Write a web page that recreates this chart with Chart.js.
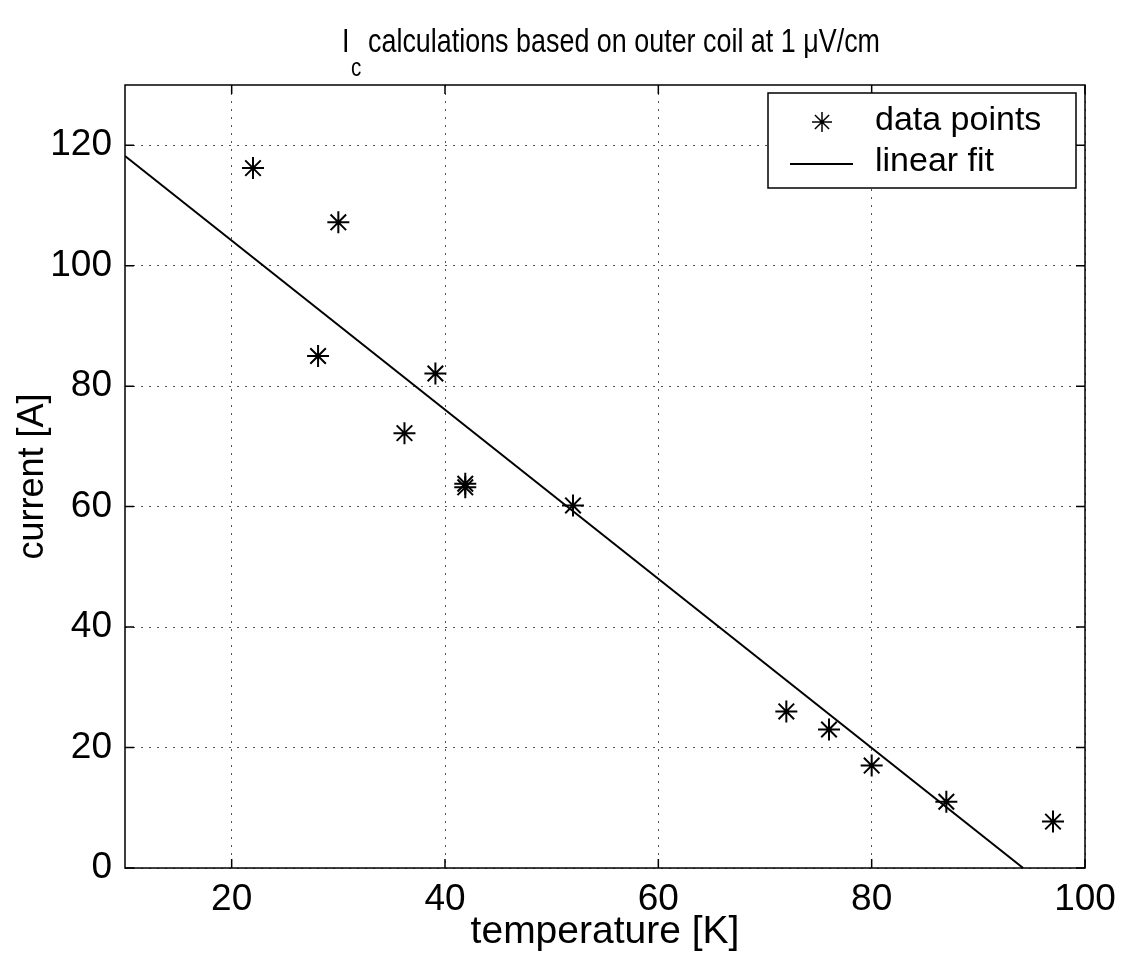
<!DOCTYPE html>
<html lang="en">
<head>
<meta charset="UTF-8" />
<title>Ic calculations based on outer coil</title>
<script src="https://cdn.jsdelivr.net/npm/chart.js"></script>
<style>
  html, body { margin: 0; padding: 0; background: #fff; }
  #wrap { width: 1139px; height: 956px; }
</style>
</head>
<body>
<div id="wrap"><canvas id="icChart" width="1139" height="956"></canvas></div>
<script>
  // measured points (temperature K, current A)
  const temperature = [22, 28.1, 30, 36.2, 39.1, 41.9, 41.9, 52, 72, 76, 80, 87, 97];
  const current = [116.2, 85, 107.2, 72.2, 82.1, 63.8, 63.2, 60.2, 26, 23, 17, 11, 7.7];
  // end points of the fitted line
  const fitTemperature = [10, 94.2];
  const fitCurrent = [118.2, 0];
  const xTicks = [20, 40, 60, 80, 100];
  const yTicks = [0, 20, 40, 60, 80, 100, 120];

  const FONT = '"Liberation Sans", Arial, sans-serif';

  // box round the plot + inward ticks on all four sides
  const boxPlugin = {
    id: 'box',
    afterDraw(chart) {
      const { ctx, chartArea: a, scales } = chart;
      ctx.save();
      ctx.strokeStyle = '#000';
      ctx.lineWidth = 1.5;
      ctx.strokeRect(a.left, a.top, a.right - a.left, a.bottom - a.top);
      ctx.beginPath();
      xTicks.forEach(v => {
        const px = scales.x.getPixelForValue(v);
        ctx.moveTo(px, a.bottom); ctx.lineTo(px, a.bottom - 9);
        ctx.moveTo(px, a.top); ctx.lineTo(px, a.top + 9);
      });
      yTicks.forEach(v => {
        const py = scales.y.getPixelForValue(v);
        ctx.moveTo(a.left, py); ctx.lineTo(a.left + 9, py);
        ctx.moveTo(a.right, py); ctx.lineTo(a.right - 9, py);
      });
      ctx.stroke();
      ctx.restore();
    }
  };

  // title with subscript c, drawn a bit condensed like the original
  const titlePlugin = {
    id: 'subTitle',
    afterDraw(chart) {
      const ctx = chart.ctx;
      const rest = 'calculations based on outer coil at 1 \u03bcV/cm';
      ctx.save();
      ctx.fillStyle = '#000';
      ctx.textBaseline = 'alphabetic';
      ctx.font = '34px ' + FONT;
      const w = ctx.measureText(rest).width;
      const sx = 512 / w;
      ctx.translate(342, 0);
      ctx.scale(sx, 1);
      ctx.fillText('I', 0, 52);
      ctx.font = '26px ' + FONT;
      ctx.fillText('c', 9 / sx, 76);
      ctx.font = '34px ' + FONT;
      ctx.fillText(rest, 26 / sx, 52);
      ctx.restore();
    }
  };

  // legend box in the upper right corner
  const legendPlugin = {
    id: 'boxLegend',
    afterDraw(chart) {
      const ctx = chart.ctx;
      const ds = chart.data.datasets;
      ctx.save();
      ctx.fillStyle = '#fff';
      ctx.fillRect(768, 93, 308, 95);
      ctx.strokeStyle = '#000';
      ctx.lineWidth = 1.5;
      ctx.strokeRect(768, 93, 308, 95);
      Chart.helpers.drawPoint(ctx, { pointStyle: 'star', radius: 10, borderWidth: 2 }, 822, 122);
      ctx.lineWidth = 2;
      ctx.beginPath(); ctx.moveTo(790, 164); ctx.lineTo(853, 164); ctx.stroke();
      ctx.fillStyle = '#000';
      ctx.font = '34px ' + FONT;
      ctx.textBaseline = 'middle';
      ctx.fillText(ds[1].label, 875, 121);
      ctx.fillText(ds[0].label, 875, 162);
      ctx.restore();
    }
  };

  new Chart(document.getElementById('icChart'), {
    type: 'scatter',
    data: {
      datasets: [{
        label: 'linear fit',
        data: fitTemperature.map((t, i) => ({ x: t, y: fitCurrent[i] })),
        showLine: true,
        borderColor: '#000',
        borderWidth: 2,
        pointRadius: 0,
        order: 2
      }, {
        label: 'data points',
        data: temperature.map((t, i) => ({ x: t, y: current[i] })),
        pointStyle: 'star',
        pointRadius: 11,
        borderWidth: 2,
        borderColor: '#000',
        backgroundColor: '#000',
        order: 1
      }]
    },
    options: {
      responsive: false,
      animation: false,
      devicePixelRatio: 1,
      layout: { padding: { top: 85, right: 54, left: 0, bottom: 0 } },
      plugins: { legend: { display: false }, tooltip: { enabled: false } },
      scales: {
        x: {
          type: 'linear', min: 10, max: 100,
          afterBuildTicks: s => { s.ticks = xTicks.map(v => ({ value: v })); },
          afterFit: s => { s.height = 88; },
          grid: { color: '#555', lineWidth: 1, drawTicks: false },
          border: { display: false, dash: [2, 6] },
          ticks: { color: '#000', padding: 10, font: { family: FONT, size: 37 }, maxRotation: 0 },
          title: { display: true, text: 'temperature [K]', color: '#000', font: { family: FONT, size: 39 }, padding: { top: 0, bottom: 0 } }
        },
        y: {
          type: 'linear', min: 0, max: 130,
          afterBuildTicks: s => { s.ticks = yTicks.map(v => ({ value: v })); },
          afterFit: s => { s.width = 125; },
          grid: { color: '#555', lineWidth: 1, drawTicks: false },
          border: { display: false, dash: [2, 6] },
          ticks: { color: '#000', padding: 13, font: { family: FONT, size: 37 } },
          title: { display: true, text: 'current [A]', color: '#000', font: { family: FONT, size: 36 }, padding: { top: 11, bottom: 0 } }
        }
      }
    },
    plugins: [boxPlugin, titlePlugin, legendPlugin]
  });
</script>
</body>
</html>
